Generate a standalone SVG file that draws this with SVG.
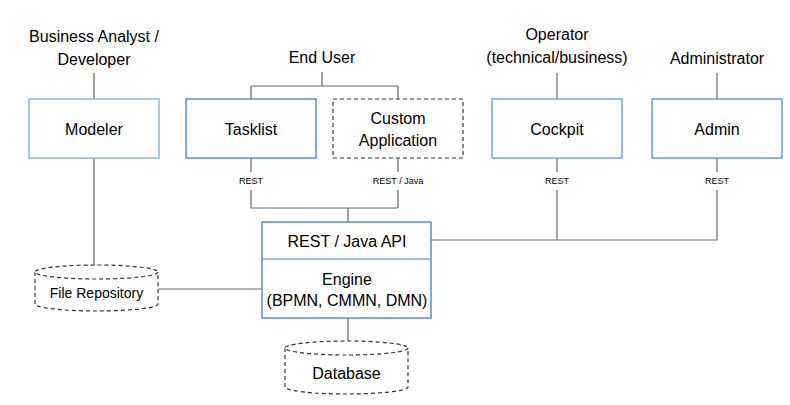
<svg xmlns="http://www.w3.org/2000/svg" width="790" height="405" viewBox="0 0 790 405">
<style>
.t{font-family:"Liberation Sans",Arial,sans-serif;fill:#000;text-anchor:middle}
.lbl{font-size:16px}
.box{fill:#fff;stroke:#3580cc;stroke-width:1.3}
.lite{stroke:#9dc3e6;stroke-width:1.8}
.dash{fill:#fff;stroke:#333;stroke-width:1.2;stroke-dasharray:4 3}
.ln{stroke:#666;stroke-width:1.2;fill:none}
.sm{font-size:9px}
</style>
<rect width="790" height="405" fill="#fff"/>
<g id="connectors">
<path class="ln" d="M94 73V99M94 158V266"/>
<path class="ln" d="M322 72V86M251 86H398M251 86V99M398 86V99"/>
<path class="ln" d="M251 158V172M251 190V208M398 158V172M398 190V208M251 208H398M348 208V222"/>
<path class="ln" d="M557 73V99M557 158V172M557 190V240M717 73V99M717 158V172M717 190V240M431 240H717"/>
<path class="ln" d="M158 289H262"/>
<path class="ln" d="M348 318V341"/>
</g>
<g id="actor-ba"><text class="t lbl" x="94" y="42">Business Analyst /</text><text class="t lbl" x="94" y="65">Developer</text></g>
<g id="actor-enduser"><text class="t lbl" x="322" y="63">End User</text></g>
<g id="actor-operator"><text class="t lbl" x="557" y="40">Operator</text><text class="t lbl" x="557" y="63">(technical/business)</text></g>
<g id="actor-admin"><text class="t lbl" x="717" y="64">Administrator</text></g>
<g id="modeler"><rect class="box lite" x="29" y="99" width="130" height="59"/><text class="t lbl" x="94" y="135">Modeler</text></g>
<g id="tasklist"><rect class="box" x="186" y="99" width="130" height="59"/><text class="t lbl" x="251" y="135">Tasklist</text></g>
<g id="custom"><rect class="dash" x="333" y="99" width="130" height="59"/><text class="t lbl" x="398" y="124">Custom</text><text class="t lbl" x="398" y="146">Application</text></g>
<g id="cockpit"><rect class="box" x="492" y="99" width="130" height="59" style="stroke:#6fa6dc;stroke-width:1.5"/><text class="t lbl" x="557" y="135">Cockpit</text></g>
<g id="admin"><rect class="box" x="652" y="99" width="130" height="59" style="stroke:#4a8ed2"/><text class="t lbl" x="717" y="135">Admin</text></g>
<g id="rest-labels">
<text class="t sm" x="251" y="184">REST</text>
<text class="t sm" x="398" y="184">REST / Java</text>
<text class="t sm" x="557" y="184">REST</text>
<text class="t sm" x="717" y="184">REST</text>
</g>
<g id="engine"><rect class="box" x="262" y="222" width="169" height="96"/><line x1="263" y1="259" x2="430" y2="259" stroke="#9dc3e6" stroke-width="2"/><text class="t lbl" x="347" y="247">REST / Java API</text><text class="t lbl" x="347" y="285">Engine</text><text class="t lbl" x="347" y="306">(BPMN, CMMN, DMN)</text></g>
<g id="file-repo"><path class="dash" d="M35 272V304A61.5 7 0 0 0 158 304V272"/><ellipse class="dash" cx="96.5" cy="272" rx="61.5" ry="7"/><text class="t" style="font-size:14px" x="96.5" y="298">File Repository</text></g>
<g id="database"><path class="dash" d="M285 348V387A61.5 7 0 0 0 408 387V348"/><ellipse class="dash" cx="346.5" cy="348" rx="61.5" ry="7"/><text class="t lbl" x="346.5" y="379">Database</text></g>
</svg>
